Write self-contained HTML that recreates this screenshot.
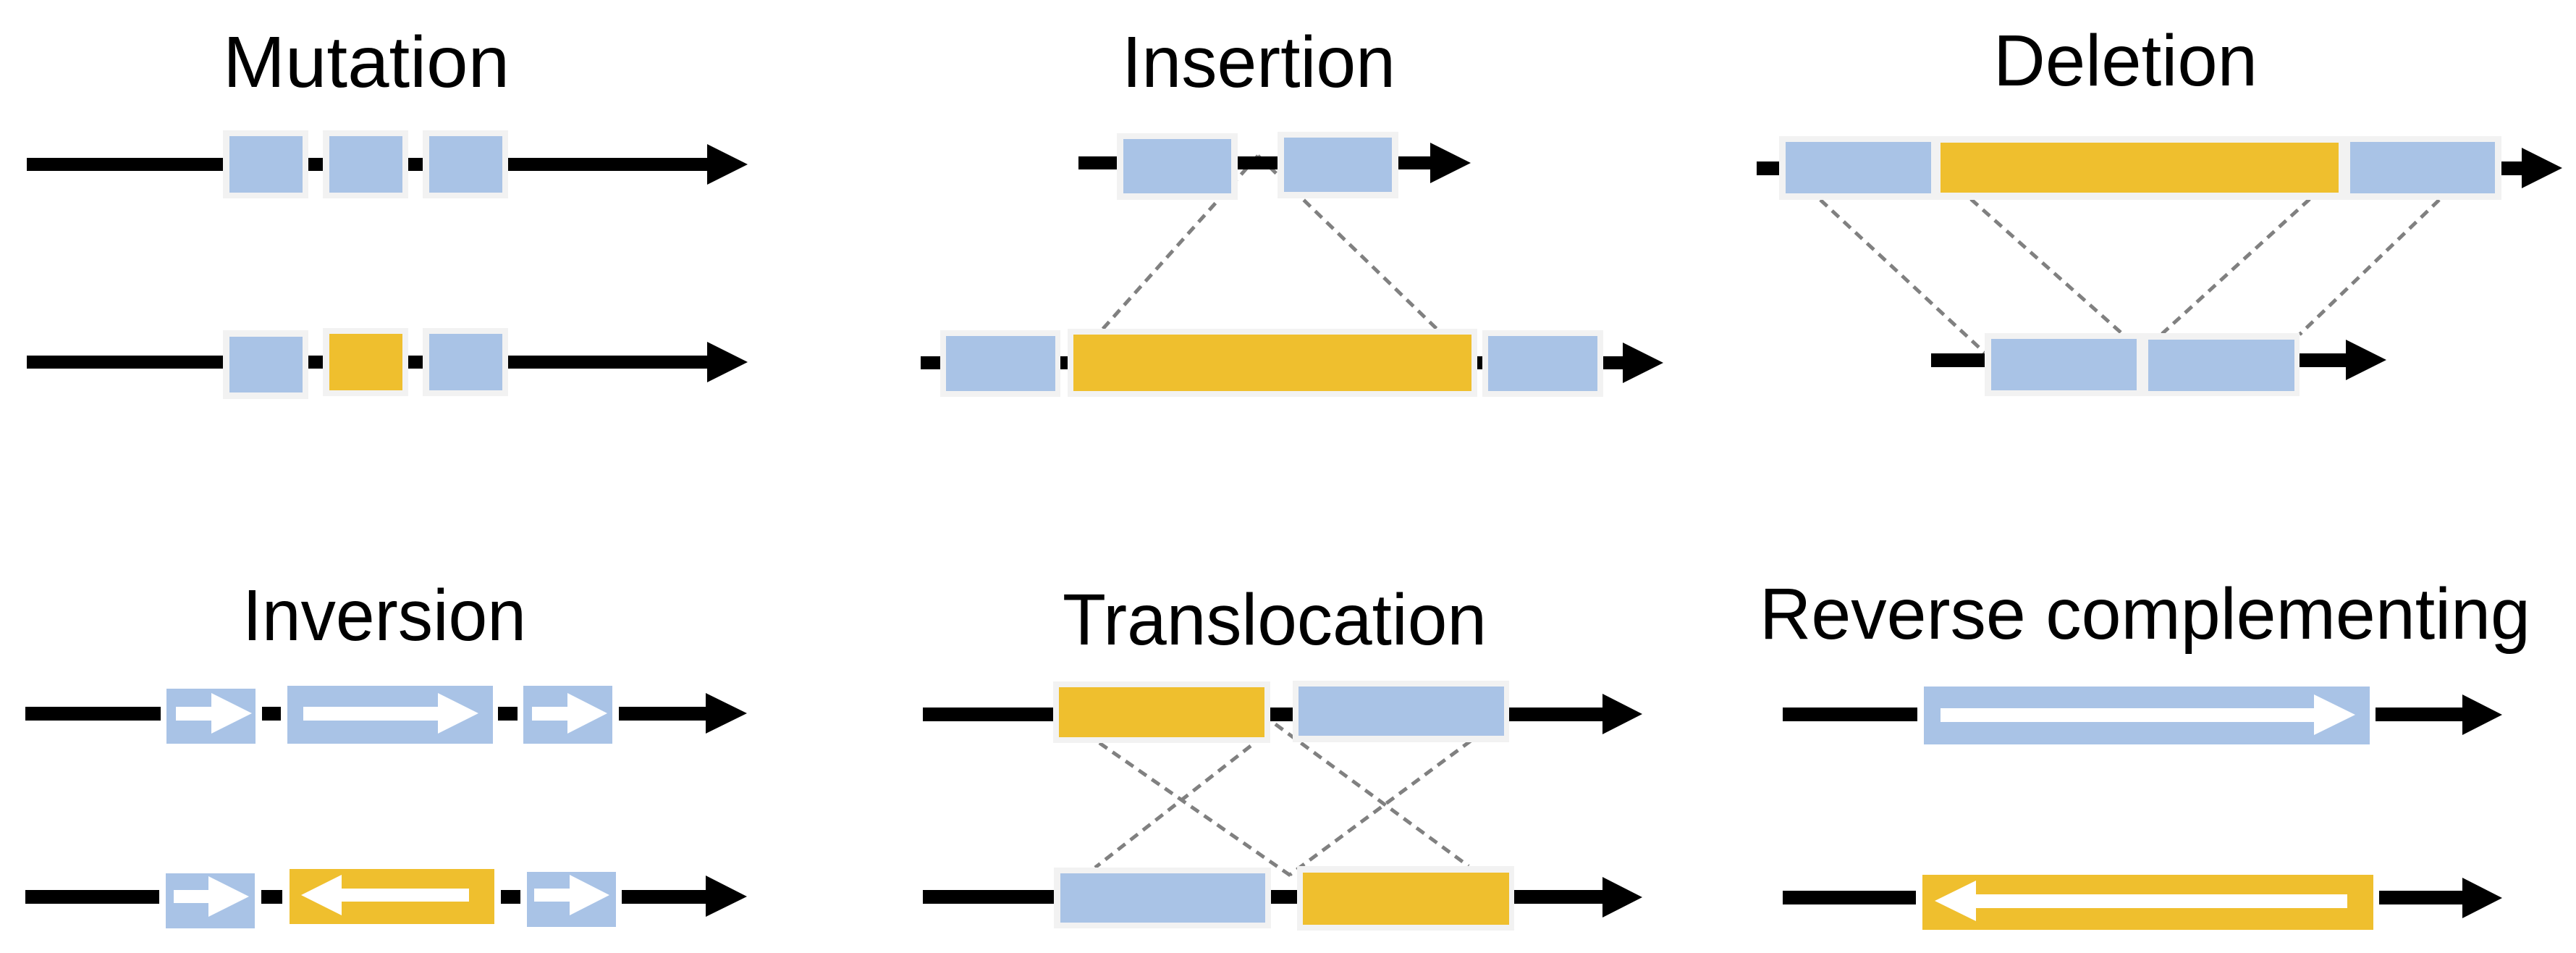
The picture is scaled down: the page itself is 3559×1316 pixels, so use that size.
<!DOCTYPE html>
<html><head><meta charset="utf-8"><style>
html,body{margin:0;padding:0;background:#fff;}
svg{display:block;}
text{font-family:"Liberation Sans",sans-serif;font-size:100px;fill:#000;}
</style></head><body>
<svg width="3559" height="1316" viewBox="0 0 3559 1316" xmlns="http://www.w3.org/2000/svg">
<g stroke="#808080" stroke-width="5" stroke-dasharray="13,9" fill="none">
<line x1="1738" y1="215" x2="1522" y2="456"/>
<line x1="1738" y1="215" x2="1987" y2="456"/>
<line x1="2515" y1="276" x2="2742" y2="487"/>
<line x1="2723" y1="275" x2="2930" y2="459"/>
<line x1="3191" y1="275" x2="2987" y2="461"/>
<line x1="3370" y1="276" x2="3177" y2="462"/>
<line x1="1519" y1="1026" x2="1790" y2="1214"/>
<line x1="1728" y1="1030" x2="1513" y2="1198"/>
<line x1="1762" y1="1000" x2="2029" y2="1196"/>
<line x1="2032" y1="1023" x2="1782" y2="1208"/>
</g>

<text x="308" y="120" textLength="396" lengthAdjust="spacingAndGlyphs">Mutation</text>
<text x="1550" y="120" textLength="378" lengthAdjust="spacingAndGlyphs">Insertion</text>
<text x="2754" y="118" textLength="365" lengthAdjust="spacingAndGlyphs">Deletion</text>
<text x="335" y="884" textLength="392" lengthAdjust="spacingAndGlyphs">Inversion</text>
<text x="1468" y="890" textLength="586" lengthAdjust="spacingAndGlyphs">Translocation</text>
<text x="2431" y="882" textLength="1065" lengthAdjust="spacingAndGlyphs">Reverse complementing</text>

<rect x="37" y="218" width="940" height="18" fill="#000"/>
<polygon points="977,199 1033,227 977,255" fill="#000"/>
<rect x="308" y="180" width="118" height="94" fill="#f2f2f2"/><rect x="317" y="188" width="101" height="78" fill="#a9c3e6"/>
<rect x="446" y="180" width="118" height="94" fill="#f2f2f2"/><rect x="455" y="188" width="101" height="78" fill="#a9c3e6"/>
<rect x="584" y="180" width="118" height="94" fill="#f2f2f2"/><rect x="593" y="188" width="101" height="78" fill="#a9c3e6"/>
<rect x="37" y="491" width="940" height="18" fill="#000"/>
<polygon points="977,472 1033,500 977,528" fill="#000"/>
<rect x="308" y="456" width="118" height="95" fill="#f2f2f2"/><rect x="317" y="465" width="101" height="77" fill="#a9c3e6"/>
<rect x="446" y="453" width="118" height="94" fill="#f2f2f2"/><rect x="455" y="461" width="101" height="78" fill="#efbf2e"/>
<rect x="584" y="453" width="118" height="94" fill="#f2f2f2"/><rect x="593" y="461" width="101" height="78" fill="#a9c3e6"/>

<rect x="1490" y="216" width="486" height="18" fill="#000"/>
<polygon points="1976,197 2032,225 1976,253" fill="#000"/>
<rect x="1543" y="184" width="167" height="92" fill="#f2f2f2"/><rect x="1552" y="192" width="149" height="75" fill="#a9c3e6"/>
<rect x="1765" y="182" width="167" height="92" fill="#f2f2f2"/><rect x="1774" y="190" width="149" height="75" fill="#a9c3e6"/>
<rect x="1272" y="492" width="970" height="18" fill="#000"/>
<polygon points="2242,473 2298,501 2242,529" fill="#000"/>
<rect x="1299" y="456" width="166" height="92" fill="#f2f2f2"/><rect x="1307" y="464" width="151" height="76" fill="#a9c3e6"/>
<rect x="1475" y="454" width="566" height="94" fill="#f2f2f2"/><rect x="1483" y="462" width="550" height="78" fill="#efbf2e"/>
<rect x="2048" y="456" width="167" height="92" fill="#f2f2f2"/><rect x="2056" y="464" width="151" height="76" fill="#a9c3e6"/>

<rect x="2427" y="223" width="1057" height="19" fill="#000"/>
<polygon points="3484,204 3540,232 3484,260" fill="#000"/>
<rect x="2458" y="188" width="998" height="88" fill="#f2f2f2"/>
<rect x="2467" y="196" width="201" height="71" fill="#a9c3e6"/>
<rect x="2681" y="197" width="550" height="69" fill="#efbf2e"/>
<rect x="3247" y="196" width="200" height="71" fill="#a9c3e6"/>
<rect x="2668" y="488" width="573" height="19" fill="#000"/>
<polygon points="3241,469 3297,497 3241,525" fill="#000"/>
<rect x="2742" y="460" width="435" height="87" fill="#f2f2f2"/>
<rect x="2751" y="468" width="201" height="71" fill="#a9c3e6"/>
<rect x="2968" y="469" width="202" height="71" fill="#a9c3e6"/>

<rect x="35" y="976" width="187" height="19" fill="#000"/>
<rect x="362" y="976" width="26" height="19" fill="#000"/>
<rect x="688" y="976" width="27" height="19" fill="#000"/>
<rect x="855" y="976" width="120" height="19" fill="#000"/>
<polygon points="975,957 1032,985 975,1013" fill="#000"/>
<rect x="230" y="951" width="123" height="76" fill="#a9c3e6"/>
<rect x="397" y="947" width="284" height="80" fill="#a9c3e6"/>
<rect x="723" y="947" width="123" height="80" fill="#a9c3e6"/>
<polygon points="243,976 292,976 292,957 348,985 292,1013 292,995 243,995" fill="#fff"/>
<polygon points="419,976 605,976 605,957 661,985 605,1013 605,995 419,995" fill="#fff"/>
<polygon points="735,976 784,976 784,957 839,985 784,1013 784,995 735,995" fill="#fff"/>

<rect x="35" y="1229" width="185" height="19" fill="#000"/>
<rect x="361" y="1229" width="29" height="19" fill="#000"/>
<rect x="692" y="1229" width="27" height="19" fill="#000"/>
<rect x="859" y="1229" width="116" height="19" fill="#000"/>
<polygon points="975,1209 1032,1238 975,1266" fill="#000"/>
<rect x="229" y="1206" width="123" height="76" fill="#a9c3e6"/>
<rect x="400" y="1200" width="283" height="76" fill="#efbf2e"/>
<rect x="728" y="1204" width="123" height="76" fill="#a9c3e6"/>
<polygon points="240,1229 288,1229 288,1210 344,1238 288,1266 288,1247 240,1247" fill="#fff"/>
<polygon points="648,1227 472,1227 472,1208 416,1236 472,1264 472,1245 648,1245" fill="#fff"/>
<polygon points="738,1227 787,1227 787,1208 842,1236 787,1264 787,1245 738,1245" fill="#fff"/>

<rect x="1275" y="977" width="939" height="19" fill="#000"/>
<polygon points="2214,958 2269,986 2214,1014" fill="#000"/>
<rect x="1455" y="941" width="300" height="85" fill="#f2f2f2"/><rect x="1463" y="949" width="284" height="69" fill="#efbf2e"/>
<rect x="1786" y="940" width="299" height="85" fill="#f2f2f2"/><rect x="1794" y="948" width="284" height="68" fill="#a9c3e6"/>
<rect x="1275" y="1229" width="939" height="19" fill="#000"/>
<polygon points="2214,1211 2269,1239 2214,1267" fill="#000"/>
<rect x="1456" y="1198" width="300" height="84" fill="#f2f2f2"/><rect x="1465" y="1206" width="283" height="68" fill="#a9c3e6"/>
<rect x="1792" y="1196" width="300" height="89" fill="#f2f2f2"/><rect x="1800" y="1205" width="285" height="72" fill="#efbf2e"/>

<rect x="2463" y="977" width="186" height="19" fill="#000"/>
<rect x="3282" y="977" width="120" height="19" fill="#000"/>
<polygon points="3402,959 3457,987 3402,1015" fill="#000"/>
<rect x="2658" y="948" width="616" height="80" fill="#a9c3e6"/>
<polygon points="2681,978 3197,978 3197,959 3254,987 3197,1015 3197,997 2681,997" fill="#fff"/>
<rect x="2463" y="1230" width="184" height="19" fill="#000"/>
<rect x="3287" y="1230" width="115" height="19" fill="#000"/>
<polygon points="3402,1212 3457,1240 3402,1268" fill="#000"/>
<rect x="2656" y="1208" width="623" height="76" fill="#efbf2e"/>
<polygon points="3243,1235 2730,1235 2730,1216 2673,1244 2730,1272 2730,1254 3243,1254" fill="#fff"/>
</svg>
</body></html>
